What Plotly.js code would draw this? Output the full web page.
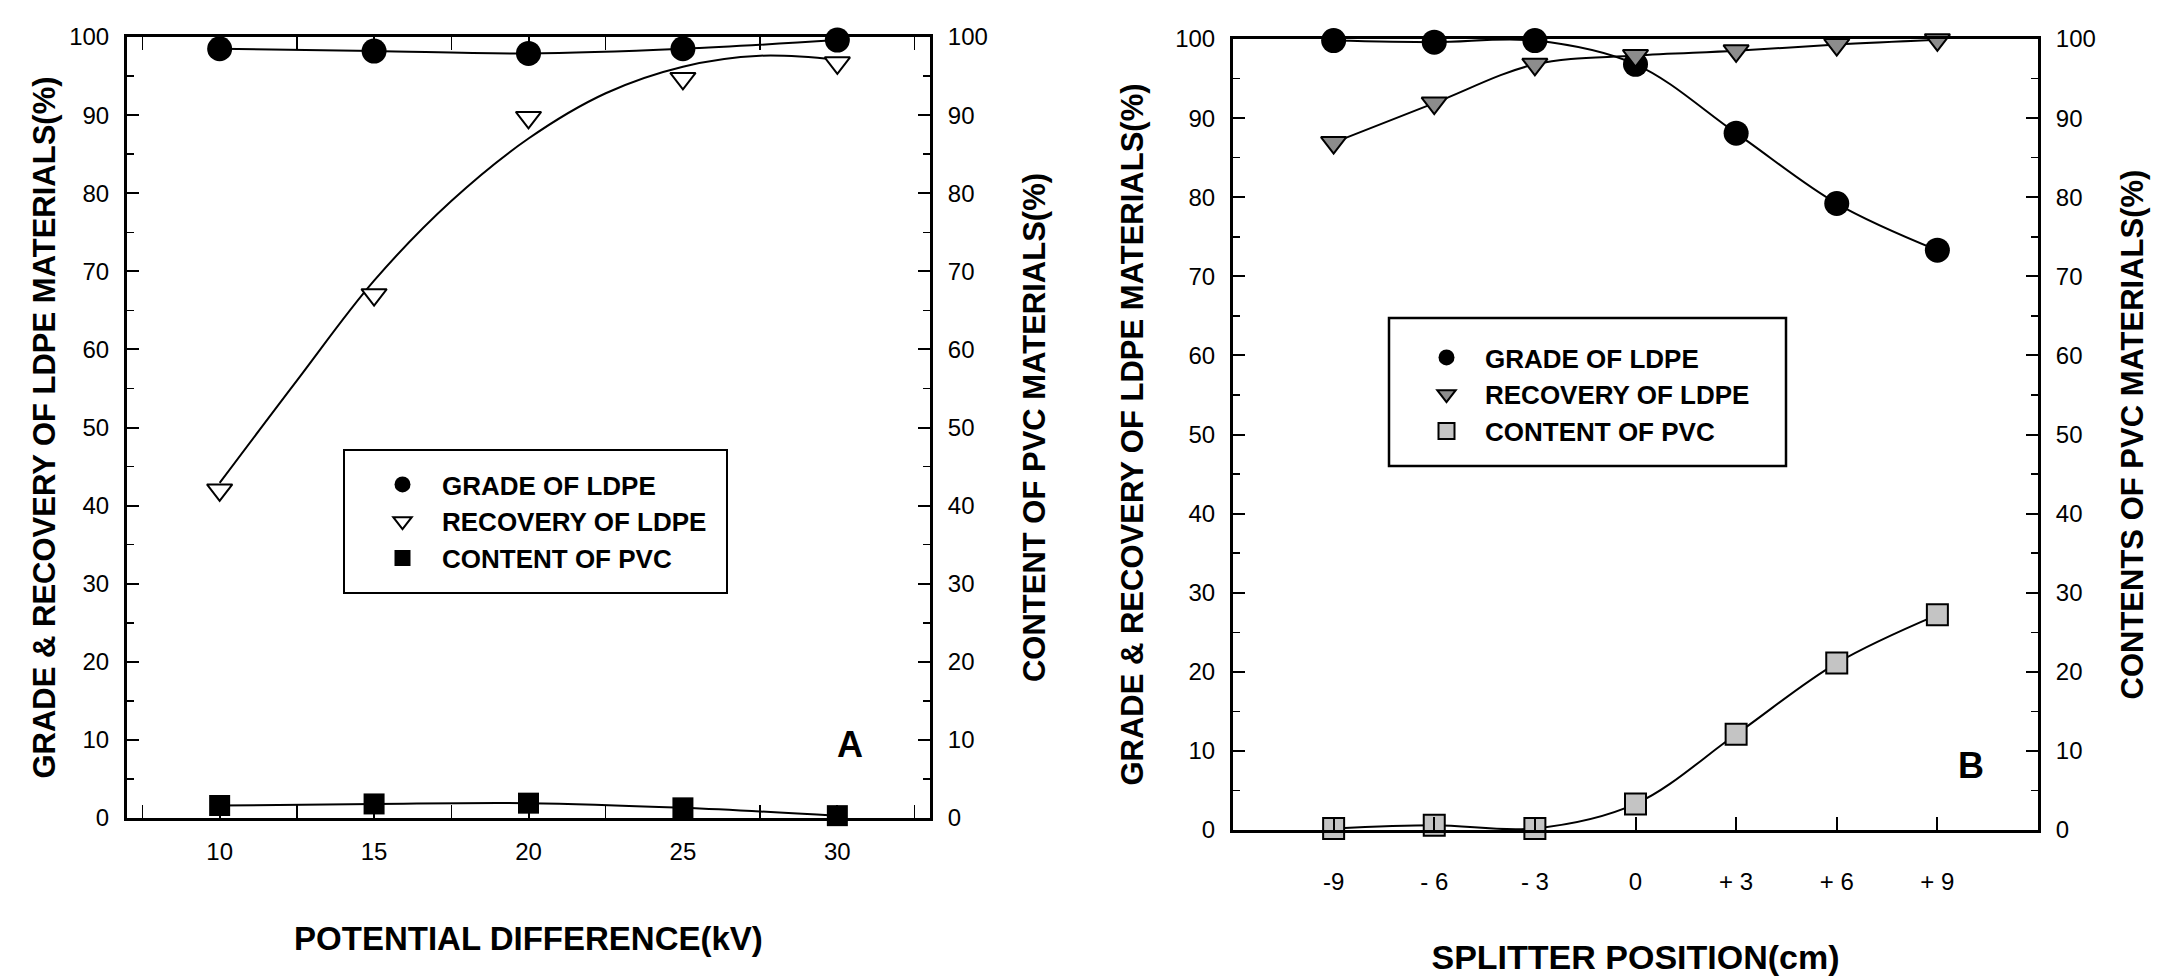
<!DOCTYPE html>
<html><head><meta charset="utf-8">
<script src="https://cdn.plot.ly/plotly-3.0.1.min.js"></script>
<style>html,body{margin:0;padding:0;background:#fff}#chart{width:2177px;height:977px}</style>
</head><body><div id="chart"></div>
<script>
// ---------- Panel A : potential difference ----------
const potentialKV = [10, 15, 20, 25, 30];
const gradeLDPE_A = [98.5, 98.2, 97.9, 98.5, 99.6];
const recoveryLDPE_A = [42.0, 67.0, 89.7, 94.7, 96.7];
const contentPVC_A = [1.6, 1.8, 1.9, 1.3, 0.3];
// fitted curve of recovery
const recoveryCurveX_A = [10, 12.5, 15, 17.5, 20, 22.5, 25, 27.5, 30];
const recoveryCurveY_A = [42.9, 56.0, 68.8, 79.0, 87.0, 92.8, 96.2, 97.6, 97.1];

// ---------- Panel B : splitter position ----------
const splitterCM = [-9, -6, -3, 0, 3, 6, 9];
const splitterTickText = ['-9', '- 6', '- 3', '0', '+ 3', '+ 6', '+ 9'];
const gradeLDPE_B = [99.8, 99.6, 99.8, 96.8, 88.1, 79.2, 73.3];
const recoveryLDPE_B = [86.9, 91.9, 96.8, 97.9, 98.5, 99.3, 99.9];
const contentPVC_B = [0.2, 0.6, 0.2, 3.3, 12.1, 21.1, 27.2];

const yTicks = [0,10,20,30,40,50,60,70,80,90,100];

const FONT = 'Liberation Sans, Arial, Helvetica, sans-serif';
const tickFont = {family: FONT, size: 24, color: '#000'};
const titleFont = {family: FONT, size: 31, color: '#000', weight: 'bold'};
const xTitleFontA = {family: FONT, size: 33, color: '#000', weight: 'bold'};
const xTitleFontB = {family: FONT, size: 34, color: '#000', weight: 'bold'};
const legendFont = {family: FONT, size: 26, color: '#000', weight: 'bold'};
const lineStyle = {color: '#000', width: 2, shape: 'spline', smoothing: 1};

function curve(x, y, xa, ya) {
  return {x: x, y: y, xaxis: xa, yaxis: ya, mode: 'lines', showlegend: false,
          line: lineStyle, hoverinfo: 'skip'};
}
function pts(x, y, xa, ya, name, legend, marker) {
  return {x: x, y: y, xaxis: xa, yaxis: ya, mode: 'markers', name: name, legend: legend,
          marker: marker, cliponaxis: false};
}

const traces = [
  // Panel A curves
  curve(potentialKV, gradeLDPE_A, 'x', 'y'),
  curve(recoveryCurveX_A, recoveryCurveY_A, 'x', 'y'),
  curve(potentialKV, contentPVC_A, 'x', 'y2'),
  // Panel A points
  pts(potentialKV, gradeLDPE_A, 'x', 'y', 'GRADE OF LDPE', 'legend',
      {symbol: 'circle', size: 25, color: '#000'}),
  pts(potentialKV, recoveryLDPE_A, 'x', 'y', 'RECOVERY OF LDPE', 'legend',
      {symbol: 'triangle-down', size: 22, color: '#fff', line: {color: '#000', width: 2}}),
  pts(potentialKV, contentPVC_A, 'x', 'y2', 'CONTENT OF PVC', 'legend',
      {symbol: 'square', size: 21, color: '#000'}),
  // Panel B curves
  curve(splitterCM, gradeLDPE_B, 'x3', 'y3'),
  curve(splitterCM, recoveryLDPE_B, 'x3', 'y3'),
  curve(splitterCM, contentPVC_B, 'x3', 'y4'),
  // Panel B points
  pts(splitterCM, gradeLDPE_B, 'x3', 'y3', 'GRADE OF LDPE', 'legend2',
      {symbol: 'circle', size: 25, color: '#000'}),
  pts(splitterCM, recoveryLDPE_B, 'x3', 'y3', 'RECOVERY OF LDPE', 'legend2',
      {symbol: 'triangle-down', size: 22, color: '#8c8c8c', line: {color: '#000', width: 2}}),
  pts(splitterCM, contentPVC_B, 'x3', 'y4', 'CONTENT OF PVC', 'legend2',
      {symbol: 'square', size: 21, color: '#c4c4c4', line: {color: '#000', width: 2}})
];

const W = 2177, H = 977;
const dx = (a, b) => [a / W, b / W];
const dy = (top, bottom) => [1 - bottom / H, 1 - top / H];

const baseY = {
  range: [0, 100], tickvals: yTicks, ticks: 'inside', ticklen: 12, tickwidth: 2, tickcolor: '#000',
  minor: {dtick: 5, tick0: 0, ticks: 'inside', ticklen: 7, tickwidth: 1.5, tickcolor: '#000'},
  showline: true, linewidth: 3, linecolor: '#000', showgrid: false, zeroline: false,
  tickfont: tickFont, fixedrange: true, ticklabelstandoff: 10
};
const baseX = {
  ticks: 'inside', ticklen: 13, tickwidth: 2, tickcolor: '#000',
  showline: true, linewidth: 3, linecolor: '#000', showgrid: false, zeroline: false,
  tickfont: tickFont, fixedrange: true
};

const layout = {
  width: W, height: H, margin: {l: 0, r: 0, t: 0, b: 0},
  paper_bgcolor: '#fff', plot_bgcolor: '#fff',
  font: {family: FONT, color: '#000'},
  xaxis: Object.assign({}, baseX, {
    domain: dx(127, 930), anchor: 'y', range: [7, 33], tick0: 10, dtick: 5, mirror: 'allticks',
    minor: {dtick: 2.5, tick0: 10, ticks: 'inside', ticklen: 7, tickwidth: 1.5, tickcolor: '#000'},
    ticklabelstandoff: 10,
    title: {text: 'POTENTIAL DIFFERENCE(kV)', font: xTitleFontA, standoff: 64}
  }),
  yaxis: Object.assign({}, baseY, {
    domain: dy(37, 818), anchor: 'x',
    title: {text: 'GRADE & RECOVERY OF LDPE MATERIALS(%)', font: titleFont, standoff: 5}
  }),
  yaxis2: Object.assign({}, baseY, {
    overlaying: 'y', side: 'right', anchor: 'x',
    title: {text: 'CONTENT OF PVC MATERIALS(%)', font: titleFont, standoff: 37}
  }),
  xaxis3: Object.assign({}, baseX, {
    domain: dx(1233, 2038), anchor: 'y3', range: [-12, 12], mirror: true,
    tickvals: splitterCM, ticktext: splitterTickText,
    ticklabelstandoff: 28,
    title: {text: 'SPLITTER POSITION(cm)', font: xTitleFontB, standoff: 52}
  }),
  yaxis3: Object.assign({}, baseY, {
    domain: dy(39, 830), anchor: 'x3',
    title: {text: 'GRADE & RECOVERY OF LDPE MATERIALS(%)', font: titleFont, standoff: 23}
  }),
  yaxis4: Object.assign({}, baseY, {
    overlaying: 'y3', side: 'right', anchor: 'x3',
    title: {text: 'CONTENTS OF PVC MATERIALS(%)', font: titleFont, standoff: 27}
  }),
  legend: {
    x: 363 / W, y: 1 - 461 / H, xanchor: 'left', yanchor: 'top',
    bgcolor: 'rgba(0,0,0,0)', borderwidth: 0,
    font: legendFont, itemwidth: 69, tracegroupgap: 0
  },
  legend2: {
    x: 1408 / W, y: 1 - 334 / H, xanchor: 'left', yanchor: 'top',
    bgcolor: 'rgba(0,0,0,0)', borderwidth: 0,
    font: legendFont, itemwidth: 67, tracegroupgap: 0
  },
  shapes: [
    {type: 'rect', xref: 'paper', yref: 'paper', layer: 'above',
     x0: 344 / W, x1: 727 / W, y0: 1 - 593 / H, y1: 1 - 450 / H,
     line: {color: '#000', width: 2}, fillcolor: '#fff'},
    {type: 'rect', xref: 'paper', yref: 'paper', layer: 'above',
     x0: 1389 / W, x1: 1786 / W, y0: 1 - 466 / H, y1: 1 - 318 / H,
     line: {color: '#000', width: 2.5}, fillcolor: '#fff'}
  ],
  annotations: [
    {text: 'A', xref: 'x', yref: 'y', x: 30.4, y: 9.4, showarrow: false,
     font: {family: FONT, size: 36, color: '#000', weight: 'bold'}},
    {text: 'B', xref: 'x3', yref: 'y3', x: 10.0, y: 8.2, showarrow: false,
     font: {family: FONT, size: 36, color: '#000', weight: 'bold'}}
  ],
  showlegend: true
};

Plotly.newPlot('chart', traces, layout, {staticPlot: true, displayModeBar: false});
</script>
</body></html>
